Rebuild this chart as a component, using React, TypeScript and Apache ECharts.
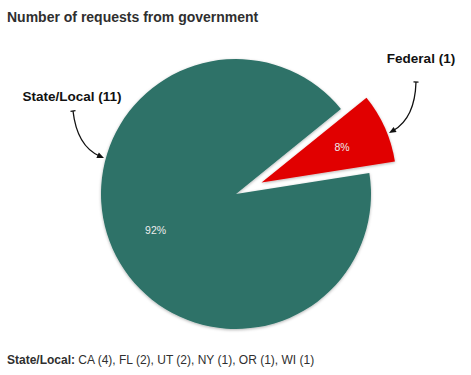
import React, { useEffect, useRef } from "react";
import * as echarts from "echarts";

const titleText = "Number of requests from government";
const categories = ["Federal", "State/Local"];
const values = [1, 11];
const colors = ["#e10000", "#2e7268"];
const footnoteLabel = "State/Local:";
const footnoteStates = ["CA", "FL", "UT", "NY", "OR", "WI"];
const footnoteCounts = [4, 2, 2, 1, 1, 1];

const FONT = 'Helvetica, Arial, "Liberation Sans", sans-serif';

function arrow(x0: number, y0: number, cx: number, cy: number, x1: number, y1: number) {
  const dx = x1 - cx;
  const dy = y1 - cy;
  const len = Math.hypot(dx, dy);
  const ux = dx / len;
  const uy = dy / len;
  const px = -uy;
  const py = ux;
  const headLen = 7;
  const headW = 3;
  const bx = x1 - ux * headLen;
  const by = y1 - uy * headLen;
  // crossbar at start
  const sdx = cx - x0;
  const sdy = cy - y0;
  const sl = Math.hypot(sdx, sdy);
  const spx = -sdy / sl;
  const spy = sdx / sl;
  return [
    {
      type: "bezierCurve",
      shape: { x1: x0, y1: y0, x2: bx + ux * 2, y2: by + uy * 2, cpx1: cx, cpy1: cy },
      style: { stroke: "#111", lineWidth: 1.3, fill: null },
    },
    {
      type: "polygon",
      shape: {
        points: [
          [x1, y1],
          [bx + px * headW, by + py * headW],
          [bx - px * headW, by - py * headW],
        ],
      },
      style: { fill: "#111", stroke: null },
    },
    {
      type: "line",
      shape: { x1: x0 - spx * 2.5, y1: y0 - spy * 2.5, x2: x0 + spx * 2.5, y2: y0 + spy * 2.5 },
      style: { stroke: "#111", lineWidth: 1.3 },
    },
  ];
}

export default function App() {
  const ref = useRef<HTMLDivElement>(null);

  useEffect(() => {
    if (!ref.current) return;
    const chart = echarts.init(ref.current, null, { renderer: "svg" });

    const data = categories.map((name, i) => ({
      name,
      value: values[i],
      selected: i === 0,
      itemStyle: { color: colors[i] },
    }));

    const labelData = categories.map((name, i) => ({
      name,
      value: values[i],
      selected: i === 0,
    }));

    const footRest = footnoteStates.map((s, i) => `${s} (${footnoteCounts[i]})`).join(", ");

    chart.setOption({
      animation: false,
      title: {
        text: titleText,
        left: 7,
        top: 10,
        padding: 0,
        textStyle: { fontFamily: FONT, fontSize: 14, fontWeight: "bold", color: "#2f2f2f" },
      },
      series: [
        {
          type: "pie",
          center: [236, 194],
          radius: 135,
          startAngle: 39,
          clockwise: true,
          selectedMode: "single",
          selectedOffset: 28,
          avoidLabelOverlap: false,
          silent: true,
          label: { show: false },
          labelLine: { show: false },
          itemStyle: {
            borderWidth: 0,
            shadowBlur: 3,
            shadowColor: "rgba(0,0,0,0.3)",
            shadowOffsetY: 1,
          },
          data,
        },
        {
          type: "pie",
          center: [236, 194],
          radius: 170,
          startAngle: 39,
          clockwise: true,
          selectedMode: "single",
          selectedOffset: 28,
          avoidLabelOverlap: false,
          silent: true,
          itemStyle: { color: "transparent", borderWidth: 0 },
          label: {
            show: true,
            position: "inside",
            fontFamily: FONT,
            fontSize: 10.5,
            color: "#ececec",
            formatter: (p: any) => `${Math.round(p.percent)}%`,
          },
          labelLine: { show: false },
          data: labelData,
        },
      ],
      graphic: [
        {
          type: "text",
          x: 72,
          y: 96,
          style: {
            text: `${categories[1]} (${values[1]})`,
            font: `bold 13.5px ${FONT}`,
            fill: "#111",
            align: "center",
            verticalAlign: "middle",
          },
        },
        {
          type: "text",
          x: 421,
          y: 58,
          style: {
            text: `${categories[0]} (${values[0]})`,
            font: `bold 13.5px ${FONT}`,
            fill: "#111",
            align: "center",
            verticalAlign: "middle",
          },
        },
        ...arrow(73, 111, 77, 146, 104, 158),
        ...arrow(416, 82, 415, 118, 389, 133),
        {
          type: "text",
          x: 7,
          y: 360,
          style: {
            text: `{b|${footnoteLabel}} ${footRest}`,
            font: `12px ${FONT}`,
            fill: "#2f2f2f",
            verticalAlign: "middle",
            rich: {
              b: { fontWeight: "bold", fontSize: 12, fontFamily: FONT, fill: "#2f2f2f" },
            },
          },
        },
      ],
    });

    return () => chart.dispose();
  }, []);

  return (
    <div
      ref={ref}
      style={{ position: "absolute", left: 0, top: 0, width: 471, height: 375, background: "#fff" }}
    />
  );
}
